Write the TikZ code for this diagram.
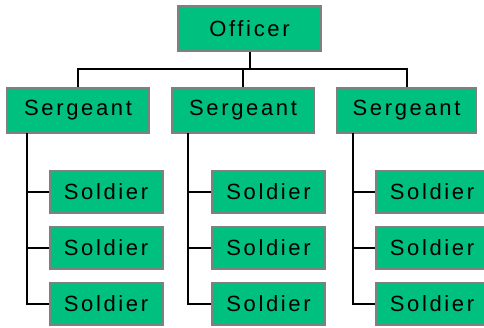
\documentclass[tikz,border=0pt]{standalone}
\usepackage{fontspec}
\setmainfont{Liberation Sans}[LetterSpace=12]
\definecolor{boxgreen}{RGB}{0,192,128}
\definecolor{boxgray}{RGB}{128,128,128}
\begin{document}
\begin{tikzpicture}[x=1pt,y=-1pt,
  box/.style={draw=boxgray,line width=2pt,fill=boxgreen,inner sep=0pt,
    font=\fontsize{22}{24}\selectfont,text=black},
  big/.style={box,minimum width=142pt,minimum height=45pt},
  small/.style={box,minimum width=113pt,minimum height=42pt},
  conn/.style={draw=black,line width=2pt}]
\useasboundingbox (0,0) rectangle (484,327);
\clip (0,0) rectangle (484,327);
\fill[white] (0,0) rectangle (484,327);
\node[big,minimum width=143pt] (off) at (249.5,28.5) {Officer};
\node[big] (s1) at (78,110.5) {Sergeant};
\node[big] (s2) at (243,110.5) {Sergeant};
\node[big,minimum width=139pt] (s3) at (406.5,110.5) {Sergeant};
\coordinate (bus) at (249,69);
\foreach \c/\x/\sx in {1/106/27,2/268.5/188,3/432/353}{
  \node[small] (a\c) at (\x,192) {Soldier};
  \node[small] (b\c) at (\x,248) {Soldier};
  \node[small] (c\c) at (\x,304) {Soldier};
  \coordinate (t\c) at (\sx,133);
}
\draw[conn] (off.south) -- (off.south |- bus);
\draw[conn] (s1.north) -- (s1.north |- bus) -- (s3.north |- bus) -- (s3.north);
\draw[conn] (s2.north) -- (s2.north |- bus);
\foreach \c in {1,2,3}{
  \draw[conn] (t\c) |- (c\c.west);
  \draw[conn] (a\c.west) -- (a\c.west -| t\c);
  \draw[conn] (b\c.west) -- (b\c.west -| t\c);
}
\end{tikzpicture}
\end{document}
